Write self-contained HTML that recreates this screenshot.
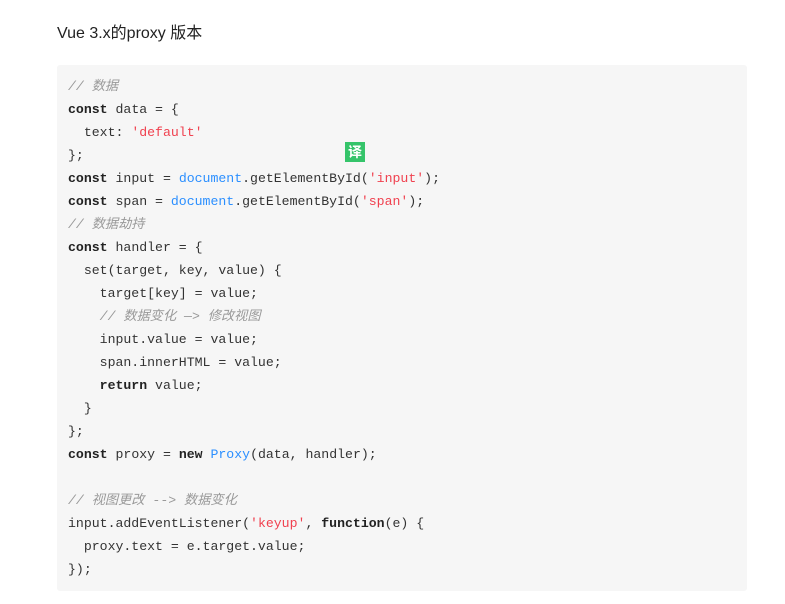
<!DOCTYPE html>
<html><head><meta charset="utf-8"><style>
body{margin:0;background:#fff;width:785px;height:604px;position:relative;overflow:hidden}
.t{position:absolute;left:57px;top:19px;font:16px "Liberation Sans","Noto Sans CJK SC",sans-serif;color:#222}
.b{position:absolute;left:57px;top:65px;width:690px;height:526px;background:#f6f6f6;border-radius:3px}
pre{position:absolute;left:68px;top:75px;margin:0;font:13.2px/23px "Liberation Mono","Noto Sans CJK SC",monospace;color:#333}
.k{font-weight:bold;color:#222}.c{color:#999;font-style:italic}.s{color:#f0414f}.n{color:#2b8fff}
.y{position:absolute;left:345px;top:142px;width:20px;height:20px;background:#35c46a;color:#fff;font:bold 14px/20px "Noto Sans CJK SC",sans-serif;text-align:center}
</style></head><body>
<div class="t">Vue 3.x的proxy 版本</div>
<div class="b"></div>
<pre><span class="c">// 数据</span>
<span class="k">const</span> data = {
  text: <span class="s">'default'</span>
};
<span class="k">const</span> input = <span class="n">document</span>.getElementById(<span class="s">'input'</span>);
<span class="k">const</span> span = <span class="n">document</span>.getElementById(<span class="s">'span'</span>);
<span class="c">// 数据劫持</span>
<span class="k">const</span> handler = {
  set(target, key, value) {
    target[key] = value;
    <span class="c">// 数据变化 —> 修改视图</span>
    input.value = value;
    span.innerHTML = value;
    <span class="k">return</span> value;
  }
};
<span class="k">const</span> proxy = <span class="k">new</span> <span class="n">Proxy</span>(data, handler);

<span class="c">// 视图更改 --> 数据变化</span>
input.addEventListener(<span class="s">'keyup'</span>, <span class="k">function</span>(e) {
  proxy.text = e.target.value;
});</pre>
<div class="y">译</div>
</body></html>
